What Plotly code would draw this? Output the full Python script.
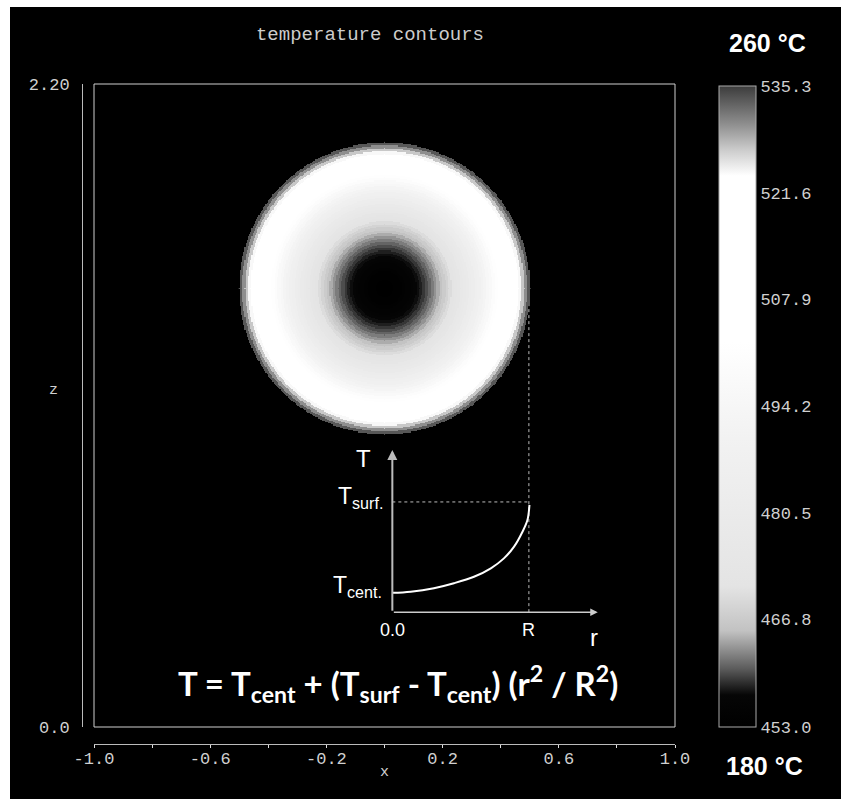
import numpy as np
import plotly.graph_objects as go

# ---------------- data ----------------
chart_title = "temperature contours"
x_tick_vals = [-1.0, -0.8, -0.6, -0.4, -0.2, 0.0, 0.2, 0.4, 0.6, 0.8, 1.0]
x_tick_text = ["-1.0", "", "-0.6", "", "-0.2", "", "0.2", "", "0.6", "", "1.0"]
z_tick_vals = [0.0, 2.2]
z_tick_text = ["0.0", "2.20"]

cbar_vals = [453.0, 466.8, 480.5, 494.2, 507.9, 521.6, 535.3]
cbar_text = ["453.0", "466.8", "480.5", "494.2", "507.9", "521.6", "535.3"]
T_min, T_max = 453.0, 535.3

# disk of the cross-section (centre and radius in x/z units)
disk_cx, disk_cz, disk_R = 0.0, 1.5, 0.5
# radial temperature profile (ring mid-radius -> temperature)
ring_r = [0.005, 0.015, 0.025, 0.035, 0.045, 0.055, 0.065, 0.075, 0.085, 0.095,
          0.105, 0.115, 0.125, 0.135, 0.145, 0.155, 0.165, 0.175, 0.185, 0.195,
          0.205, 0.215, 0.225, 0.235, 0.245, 0.255, 0.265, 0.275, 0.285, 0.295,
          0.305, 0.315, 0.325, 0.335, 0.345, 0.355, 0.365, 0.375, 0.385, 0.395,
          0.405, 0.415, 0.425, 0.435, 0.445, 0.455, 0.465, 0.475, 0.485, 0.495]
ring_T = [453.0, 453.1, 453.2, 453.4, 453.7, 454.0, 454.4, 454.9, 455.4, 456.0,
          456.6, 457.4, 458.1, 459.0, 459.9, 460.9, 462.0, 463.1, 464.3, 465.5,
          466.8, 468.2, 469.7, 471.2, 472.8, 474.4, 476.1, 477.9, 479.7, 481.6,
          483.6, 485.7, 487.8, 489.9, 492.2, 494.5, 496.9, 499.3, 501.8, 504.4,
          507.0, 509.7, 512.5, 515.3, 518.2, 521.2, 524.2, 527.3, 530.4, 533.7]

# inset sketch T(r) (in x/z units of the main axes)
inset_r0, inset_R, inset_r_end = 0.027, 0.497, 0.734
inset_T_axis, inset_T_cent, inset_T_surf, inset_T_end = 0.393, 0.459, 0.770, 0.948
curve_r = [0.027, 0.090, 0.170, 0.239, 0.308, 0.366, 0.411, 0.446, 0.475, 0.492, 0.499]
curve_T = [0.459, 0.463, 0.475, 0.492, 0.514, 0.543, 0.577, 0.617, 0.668, 0.708, 0.760]

T_high_label = "260 °C"
T_low_label = "180 °C"
formula = ("T = T<sub>cent</sub> + (T<sub>surf</sub> - T<sub>cent</sub>) "
           "(r<sup>2</sup> / R<sup>2</sup>)")

# ---------------- field on a grid ----------------
gx = np.linspace(disk_cx - disk_R, disk_cx + disk_R, 251)
gz = np.linspace(disk_cz - disk_R, disk_cz + disk_R, 251)
GX, GZ = np.meshgrid(gx, gz)
RR = np.sqrt((GX - disk_cx) ** 2 + (GZ - disk_cz) ** 2)
rr = np.array(ring_r)
idx = np.abs(RR[..., None] - rr[None, None, :]).argmin(axis=-1)
field = np.array(ring_T)[idx]
field = np.where(RR <= disk_R, field, np.nan)

colorscale = [
    [0.0, "#000000"],
    [0.05, "#060606"],
    [0.09, "#5a5a5a"],
    [0.15, "#c2c2c2"],
    [0.22, "#e4e4e4"],
    [0.45, "#f2f2f2"],
    [0.60, "#ffffff"],
    [0.86, "#ffffff"],
    [0.90, "#cccccc"],
    [0.94, "#8f8f8f"],
    [1.0, "#3c3c3c"],
]

mono = "Liberation Mono"
sans = "Liberation Sans"
tick_col = "#d0d0d0"

FW, FH = 841, 799
ML, MR, MT, MB = 82, 166, 84, 55
PW, PH = FW - ML - MR, FH - MT - MB   # 593 x 660


def px(xpage):
    return (xpage - ML) / PW


def py(ypage):
    return (FH - MB - ypage) / PH


fig = go.Figure()
fig.add_trace(go.Heatmap(
    x=gx, y=gz, z=field, zmin=T_min, zmax=T_max, colorscale=colorscale,
    hoverongaps=False,
    colorbar=dict(
        x=px(719), xanchor="left", y=py(727), yanchor="bottom",
        len=641 / PH, lenmode="fraction", thickness=37, thicknessmode="pixels",
        xpad=0, ypad=0, outlinecolor="#aaaaaa", outlinewidth=1,
        tickvals=cbar_vals, ticktext=cbar_text, ticks="",
        tickfont=dict(family=mono, size=17, color=tick_col),
    ),
))

fig.add_trace(go.Scatter(
    x=curve_r, y=curve_T, mode="lines",
    line=dict(color="white", width=2, shape="spline"),
    hoverinfo="skip", showlegend=False,
))

shapes = [
    dict(type="rect", xref="x domain", yref="y domain", x0=0, x1=1, y0=0, y1=1,
         line=dict(color="#cfcfcf", width=1)),
    dict(type="line", xref="x", yref="y", x0=inset_r0, x1=inset_R,
         y0=inset_T_surf, y1=inset_T_surf, layer="below",
         line=dict(color="#bbbbbb", width=1, dash="dot")),
    dict(type="line", xref="x", yref="y", x0=inset_R, x1=inset_R,
         y0=inset_T_axis, y1=disk_cz, layer="below",
         line=dict(color="#bbbbbb", width=1, dash="dot")),
    # white strips of the scanned page (top and left edges)
    dict(type="rect", xref="paper", yref="paper", x0=px(-2), x1=px(845), y0=py(7), y1=py(-2),
         fillcolor="white", line=dict(width=0)),
    dict(type="rect", xref="paper", yref="paper", x0=px(-2), x1=px(10), y0=py(802), y1=py(-2),
         fillcolor="white", line=dict(width=0)),
]

ann = []
ann.append(dict(x=inset_r0, y=inset_T_end, ax=inset_r0, ay=inset_T_axis,
                xref="x", yref="y", axref="x", ayref="y", text="", showarrow=True,
                arrowhead=2, arrowsize=1, arrowwidth=2, arrowcolor="#bbbbbb"))
ann.append(dict(x=inset_r_end, y=inset_T_axis, ax=inset_r0, ay=inset_T_axis,
                xref="x", yref="y", axref="x", ayref="y", text="", showarrow=True,
                arrowhead=2, arrowsize=1, arrowwidth=1.5, arrowcolor="#cccccc"))
inset_labels = [
    dict(x=-0.072, y=0.920, text="T", font=dict(family=sans, size=24, color="white")),
    dict(x=0.003, y=0.786, text="T<sub>surf.</sub>", xanchor="right",
         font=dict(family=sans, size=23, color="white")),
    dict(x=-0.003, y=0.482, text="T<sub>cent.</sub>", xanchor="right",
         font=dict(family=sans, size=23, color="white")),
    dict(x=inset_r0, y=0.332, text="0.0", font=dict(family=sans, size=18, color="white")),
    dict(x=inset_R, y=0.332, text="R", font=dict(family=sans, size=18, color="white")),
    dict(x=0.721, y=0.305, text="r", font=dict(family=sans, size=24, color="white")),
    dict(x=0.045, y=0.150, text=formula,
         font=dict(family="Lato", size=33, color="white", weight="bold")),
]
for a in inset_labels:
    a.update(xref="x", yref="y", showarrow=False)
ann += inset_labels
ann += [
    dict(x=px(53), y=py(390), xref="paper", yref="paper", text="z", showarrow=False,
         xanchor="center", yanchor="middle",
         font=dict(family=mono, size=15, color=tick_col)),
    dict(x=0.0, y=py(772), xref="x", yref="paper", text="x", showarrow=False,
         xanchor="center", yanchor="middle",
         font=dict(family=mono, size=15, color=tick_col)),
    dict(x=px(767), y=py(43), xref="paper", yref="paper", text=T_high_label, showarrow=False,
         xanchor="center", yanchor="middle",
         font=dict(family=sans, size=25, color="white", weight="bold")),
    dict(x=px(764), y=py(766), xref="paper", yref="paper", text=T_low_label, showarrow=False,
         xanchor="center", yanchor="middle",
         font=dict(family=sans, size=25, color="white", weight="bold")),
]

fig.update_layout(
    width=FW, height=FH,
    margin=dict(l=ML, r=MR, t=MT, b=MB),
    paper_bgcolor="black", plot_bgcolor="black",
    showlegend=False,
    title=dict(text=chart_title, x=px(370), xref="paper", y=1 - 33 / FH, yref="container",
               xanchor="center", yanchor="middle",
               font=dict(family=mono, size=19, color="#cccccc")),
    shapes=shapes, annotations=ann,
    xaxis=dict(range=[-1, 1], domain=[12 / PW, 1], anchor="free", position=0,
               showgrid=False, zeroline=False, showline=True, linecolor="#bbbbbb",
               linewidth=1, ticks="outside", ticklen=3, tickcolor="#dddddd",
               tickvals=x_tick_vals, ticktext=x_tick_text, ticklabelstandoff=-4,
               tickfont=dict(family=mono, size=17, color=tick_col)),
    yaxis=dict(range=[0, 2.2], domain=[17 / PH, 1], anchor="free", position=0,
               showgrid=False, zeroline=False, showline=True, linecolor="#bbbbbb",
               linewidth=1, ticks="", tickvals=z_tick_vals, ticktext=z_tick_text,
               ticklabelstandoff=9,
               tickfont=dict(family=mono, size=17, color=tick_col)),
)

fig.write_html("out.html",
               config={"displayModeBar": False},
               post_script="document.body.style.margin='0px';"
                           "document.body.style.overflow='hidden';")
